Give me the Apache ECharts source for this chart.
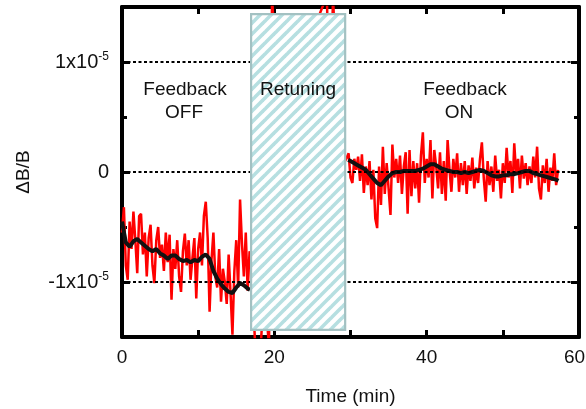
<!DOCTYPE html>
<html>
<head>
<meta charset="utf-8">
<script src="https://cdn.jsdelivr.net/npm/echarts@6/dist/echarts.min.js"></script>
<style>
html,body{margin:0;padding:0;background:#fff;overflow:hidden;}
#chart{width:586px;height:409px;}
</style>
</head>
<body>
<div id="chart"></div>
<script>
// ---- data (ΔB/B in units of 1e-5, time in minutes) ----
const redOffStart = 0, redStep = 0.25;
const redOff = [-0.55,-0.32,-0.85,-0.98,-0.45,-0.70,-0.36,-0.62,-0.92,-0.40,-0.38,-0.75,-0.55,-0.95,-0.60,-0.48,
 -0.85,-1.01,-0.62,-0.50,-0.78,-0.66,-0.90,-0.55,-0.82,-0.57,-1.16,-0.70,-0.88,-0.62,-0.95,-1.09,-0.72,-0.56,
 -0.85,-0.62,-0.98,-0.78,-0.60,-1.15,-0.70,-0.55,-0.85,-0.40,-0.27,-0.60,-1.27,-0.80,-0.55,-0.95,-1.05,-0.70,
 -1.18,-0.88,-1.00,-1.20,-0.75,-1.10,-1.48,-0.90,-0.62,-1.05,-0.25,-0.65,-0.95,-0.55,-1.08,-0.72,-0.85];
// values recorded during retuning (mostly hidden behind the box)
const redRetuneT = [17.5,18.2,18.7,19.3,19.7,20.5,26.9,27.3,27.7,28.5,29.3];
const redRetuneV = [-1.6,-1.6,-1.0,-1.6,1.6,0.5,1.6,0.2,1.6,0.3,0.1];
const redOnStart = 29.5;
const redOn = [0.10,0.17,-0.05,-0.10,0.12,0.02,0.14,-0.08,0.16,-0.19,0.05,-0.12,0.10,-0.25,0.02,-0.42,-0.51,0.05,
 -0.30,0.23,-0.20,0.08,-0.15,-0.39,0.25,-0.05,0.12,-0.10,0.15,-0.20,0.05,0.18,-0.38,0.20,-0.22,0.10,-0.15,0.08,
 -0.28,0.15,0.36,-0.10,0.12,-0.05,0.29,-0.24,0.20,0.05,-0.15,0.18,-0.20,0.10,-0.26,0.29,0.02,-0.18,0.12,-0.05,
 0.17,-0.18,0.08,-0.12,0.10,-0.20,0.06,-0.08,0.13,-0.15,0.04,-0.10,0.12,0.27,-0.06,-0.27,0.10,-0.12,0.05,-0.18,
 0.15,-0.08,0.02,-0.24,0.08,-0.10,0.22,-0.05,0.10,-0.19,0.26,-0.02,0.12,-0.15,0.15,-0.06,0.08,-0.12,0.05,-0.10,
 0.14,-0.05,0.23,-0.15,-0.25,0.06,-0.10,0.12,-0.18,0.04,-0.08,0.17,-0.12,0.02];
const blackOff = [[0,-0.45],[0.5,-0.64],[1,-0.68],[1.5,-0.63],[2,-0.61],[2.5,-0.64],[3,-0.67],[3.5,-0.70],[4,-0.72],
 [4.5,-0.70],[5,-0.74],[5.5,-0.76],[6,-0.79],[6.5,-0.76],[7,-0.76],[7.5,-0.79],[8,-0.81],[8.5,-0.80],[9,-0.82],
 [9.5,-0.80],[10,-0.81],[10.5,-0.77],[11,-0.75],[11.5,-0.79],[12,-0.90],[12.5,-0.97],[13,-1.02],[13.5,-1.06],
 [14,-1.09],[14.5,-1.10],[15,-1.05],[15.5,-1.01],[16,-1.03],[16.5,-1.06],[16.8,-1.07]];
const blackOn = [[29.7,0.11],[30,0.10],[30.5,0.08],[31,0.06],[31.5,0.04],[32,0.02],[32.5,-0.02],[33,-0.06],[33.5,-0.10],
 [34,-0.12],[34.5,-0.08],[35,-0.04],[35.5,-0.01],[36,0],[36.5,0],[37,0.01],[37.5,0.01],[38,0.01],[38.5,0.01],
 [39,0.02],[39.5,0.03],[40,0.05],[40.5,0.07],[41,0.07],[41.5,0.05],[42,0.03],[42.5,0.02],[43,0.01],[43.5,0],
 [44,0],[44.5,-0.01],[45,0],[45.5,-0.01],[46,0],[46.5,0.01],[47,0.02],[47.5,0.01],[48,-0.01],[48.5,-0.03],
 [49,-0.04],[49.5,-0.04],[50,-0.03],[50.5,-0.03],[51,-0.02],[51.5,-0.02],[52,-0.01],[52.5,0],[53,0.01],[53.5,0.01],
 [54,-0.01],[54.5,-0.02],[55,-0.03],[55.5,-0.04],[56,-0.05],[56.5,-0.06],[57,-0.07],[57.3,-0.08]];
const retune = [16.95, 1.435, 29.3, -1.435]; // x0, yTop, x1, yBottom
const gridValues = [-1, 0, 1];
const majorY = [-1, 0, 1];
const minorY = [-0.5, 0.5];
const xLabelStep = 20;

// ---- build series data ----
const redData = [];
redOff.forEach((v, i) => redData.push([redOffStart + i * redStep, v]));
redRetuneT.forEach((t, i) => redData.push([t, redRetuneV[i]]));
redOn.forEach((v, i) => redData.push([redOnStart + i * redStep, v]));
const blackData = blackOff.concat([[null, null]], blackOn);

// hatch pattern
const pc = document.createElement('canvas');
const S = 11;
pc.width = S; pc.height = S;
const g = pc.getContext('2d');
g.fillStyle = '#ffffff'; g.fillRect(0, 0, S, S);
g.strokeStyle = '#b6dfe1'; g.lineWidth = 3.6;
[0, S, 2 * S].forEach(c => { g.beginPath(); g.moveTo(c + 6, -6); g.lineTo(-6, c + 6); g.stroke(); });
const hatch = {image: pc, repeat: 'repeat'};

const FONT = "'Liberation Sans', Arial, sans-serif";
const chart = echarts.init(document.getElementById('chart'), null, {renderer: 'canvas'});

function yAxisDef(pos, vals, len, withLine, withLabel) {
  return {
    type: 'value', position: pos, min: -1.5, max: 1.5, interval: 0.5,
    axisLine: {show: withLine, onZero: false, lineStyle: {color: '#000', width: 4}},
    axisTick: {show: true, inside: true, length: len, customValues: vals, lineStyle: {color: '#000', width: 3}},
    axisLabel: {show: withLabel, customValues: vals, margin: 13, color: '#111', fontFamily: FONT, fontSize: 20,
      formatter: v => v === 0 ? '0' : (v > 0 ? '1x10{sup|-5}' : '-1x10{sup|-5}'),
      rich: {sup: {fontSize: 12, fontFamily: FONT, color: '#111', verticalAlign: 'top', padding: [0, 0, 10, 0]}}},
    splitLine: {show: false},
    name: withLabel ? 'ΔB/B' : '', nameLocation: 'middle', nameGap: 89, nameRotate: 90,
    nameTextStyle: {fontFamily: FONT, fontSize: 19, color: '#111'}
  };
}
function xAxisDef(pos, withLabel) {
  return {
    type: 'value', position: pos, min: 0, max: 60, interval: 10,
    axisLine: {show: true, onZero: false, lineStyle: {color: '#000', width: 4}},
    axisTick: {show: true, inside: true, length: 7, lineStyle: {color: '#000', width: 3}},
    axisLabel: {show: withLabel, margin: 11, color: '#111', fontFamily: FONT, fontSize: 19,
      formatter: v => (v % xLabelStep === 0 ? (v === 60 ? '{r|60}' : String(v)) : ''),
      rich: {r: {fontFamily: FONT, fontSize: 19, color: '#111', padding: [0, 9, 0, 0]}}},
    splitLine: {show: false},
    name: withLabel ? 'Time (min)' : '', nameLocation: 'middle', nameGap: 50,
    nameTextStyle: {fontFamily: FONT, fontSize: 19, color: '#111'}
  };
}

function txt(s, x, y) {
  return {type: 'text', z: 100, zlevel: 1, x: x, y: y,
    style: {text: s, fontFamily: FONT, fontSize: 19, fill: '#111', align: 'center', verticalAlign: 'middle'}};
}

const option = {
  animation: false,
  backgroundColor: '#fff',
  grid: {left: 122, right: 7, top: 7, bottom: 72, containLabel: false, outerBoundsMode: 'none'},
  xAxis: [xAxisDef('bottom', true), xAxisDef('top', false)],
  yAxis: [
    yAxisDef('left', majorY, 8, true, true),
    yAxisDef('left', minorY, 5, false, false),
    yAxisDef('right', majorY, 8, true, false),
    yAxisDef('right', minorY, 5, false, false)
  ],
  series: [
    {type: 'line', data: [], z: 1, silent: true,
     markLine: {silent: true, symbol: 'none', label: {show: false},
       lineStyle: {color: '#000', width: 2, type: [3, 2.5]},
       data: gridValues.map(v => ({yAxis: v}))}},
    {type: 'line', data: redData, z: 2, symbol: 'none', lineStyle: {color: '#ff0000', width: 2.5}, clip: true},
    {type: 'line', data: blackData, z: 3, symbol: 'none', connectNulls: false,
     lineStyle: {color: '#111', width: 4}},
    {type: 'custom', z: 10, silent: true, data: [retune],
     renderItem: (params, api) => {
       const p0 = api.coord([api.value(0), api.value(1)]);
       const p1 = api.coord([api.value(2), api.value(3)]);
       return {type: 'rect', shape: {x: p0[0], y: p0[1], width: p1[0] - p0[0], height: p1[1] - p0[1]},
         style: {fill: hatch, stroke: '#a3c1c2', lineWidth: 2.2}};
     }}
  ],
  graphic: [
    txt('Feedback', 185, 90), txt('OFF', 184, 113),
    txt('Retuning', 298, 90),
    txt('Feedback', 465, 90), txt('ON', 459, 113)
  ]
};
chart.setOption(option);
</script>
</body>
</html>
